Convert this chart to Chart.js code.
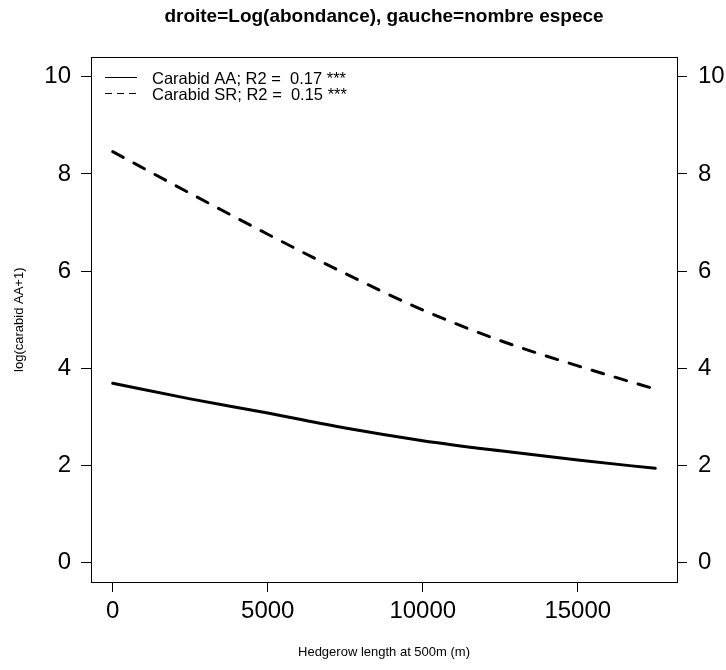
<!DOCTYPE html>
<html>
<head>
<meta charset="utf-8">
<script src="https://cdn.jsdelivr.net/npm/chart.js@4.4.1/dist/chart.umd.min.js"></script>
<style>
  html, body { margin: 0; padding: 0; background: #fff; }
  #c { display: block; }
</style>
</head>
<body>
<canvas id="c" width="726" height="670"></canvas>
<script>
// ---- data ----
const hedgerow  = [0, 2500, 5000, 7500, 10000, 12500, 15000, 17500];
const carabidAA = [3.69, 3.37, 3.08, 2.77, 2.51, 2.30, 2.11, 1.94];
const carabidSR = [8.46, 7.60, 6.76, 5.95, 5.20, 4.57, 4.05, 3.57];
const xTicks = [0, 5000, 10000, 15000];
const yTicks = [0, 2, 4, 6, 8, 10];
const legendLabels = ["Carabid AA; R2 =  0.17 ***", "Carabid SR; R2 =  0.15 ***"];
const titleText = "droite=Log(abondance), gauche=nombre espece";
const xTitle = "Hedgerow length at 500m (m)";
const yTitle = "log(carabid AA+1)";

const FONT = "'Liberation Sans', Arial, Helvetica, sans-serif";

const toPts = (ys) => hedgerow.map((x, i) => ({ x: x, y: ys[i] }));

const boxAndLegend = {
  id: 'boxAndLegend',
  afterDraw(chart) {
    const ctx = chart.ctx;
    const a = chart.chartArea;
    ctx.save();
    ctx.strokeStyle = '#000';
    ctx.lineWidth = 1;
    ctx.setLineDash([]);
    const l = Math.round(a.left) + 0.5, t = Math.round(a.top) + 0.5;
    const r = Math.round(a.right) + 0.5, b = Math.round(a.bottom) + 0.5;
    ctx.strokeRect(l, t, r - l, b - t);

    // legend
    const dashes = [[], [7, 5]];
    ctx.font = "16.5px " + FONT;
    ctx.fillStyle = '#000';
    ctx.textBaseline = 'middle';
    ctx.textAlign = 'left';
    for (let i = 0; i < legendLabels.length; i++) {
      const y = a.top + 20 + i * 16;
      ctx.beginPath();
      ctx.setLineDash(dashes[i]);
      ctx.lineWidth = 1;
      ctx.moveTo(a.left + 14, Math.round(y) + 0.5);
      ctx.lineTo(a.left + 46, Math.round(y) + 0.5);
      ctx.stroke();
      ctx.setLineDash([]);
      ctx.fillText(legendLabels[i], a.left + 61, y + 2.3);
    }
    ctx.restore();
  }
};

const tickFmt = (v) => String(v);

new Chart(document.getElementById('c'), {
  type: 'line',
  data: {
    datasets: [
      {
        label: 'Carabid AA',
        data: toPts(carabidAA),
        borderColor: '#000',
        borderWidth: 3,
        pointRadius: 0,
        cubicInterpolationMode: 'monotone',
        borderCapStyle: 'round',
        borderJoinStyle: 'round',
        fill: false,
        yAxisID: 'y'
      },
      {
        label: 'Carabid SR',
        data: toPts(carabidSR),
        borderColor: '#000',
        borderWidth: 3,
        borderDash: [12, 12],
        pointRadius: 0,
        cubicInterpolationMode: 'monotone',
        borderCapStyle: 'round',
        borderJoinStyle: 'round',
        fill: false,
        yAxisID: 'y'
      }
    ]
  },
  options: {
    responsive: false,
    animation: false,
    devicePixelRatio: 1,
    layout: { padding: 0 },
    plugins: {
      legend: { display: false },
      tooltip: { enabled: false },
      title: {
        display: true,
        text: titleText,
        fullSize: false,
        color: '#000',
        font: { family: FONT, size: 19, weight: 'bold' },
        padding: { top: 5, bottom: 29.6 }
      }
    },
    scales: {
      x: {
        type: 'linear',
        position: 'bottom',
        min: -700,
        max: 18200,
        afterBuildTicks: (s) => { s.ticks = xTicks.map(v => ({ value: v })); },
        afterFit: (s) => { s.height = 88; },
        border: { display: false },
        grid: { drawOnChartArea: false, drawTicks: true, tickLength: 10, color: '#000', lineWidth: 1 },
        ticks: { color: '#000', font: { family: FONT, size: 24 }, padding: 5, maxRotation: 0, autoSkip: false, callback: tickFmt },
        title: { display: true, text: xTitle, color: '#000', font: { family: FONT, size: 13 }, padding: { top: 0, bottom: 10 } }
      },
      y: {
        type: 'linear',
        position: 'left',
        min: -0.4,
        max: 10.4,
        afterBuildTicks: (s) => { s.ticks = yTicks.map(v => ({ value: v })); },
        afterFit: (s) => { s.width = 91; },
        border: { display: false },
        grid: { drawOnChartArea: false, drawTicks: true, tickLength: 10, color: '#000', lineWidth: 1 },
        ticks: { color: '#000', font: { family: FONT, size: 24 }, padding: 10, autoSkip: false, callback: tickFmt },
        title: { display: true, text: yTitle, color: '#000', font: { family: FONT, size: 13 }, padding: { top: 12, bottom: 0 } }
      },
      y2: {
        type: 'linear',
        position: 'right',
        min: -0.4,
        max: 10.4,
        afterBuildTicks: (s) => { s.ticks = yTicks.map(v => ({ value: v })); },
        afterFit: (s) => { s.width = 49; },
        border: { display: false },
        grid: { drawOnChartArea: false, drawTicks: true, tickLength: 10, color: '#000', lineWidth: 1 },
        ticks: { color: '#000', font: { family: FONT, size: 24 }, padding: 11, autoSkip: false, callback: tickFmt }
      }
    }
  },
  plugins: [boxAndLegend]
});
</script>
</body>
</html>
